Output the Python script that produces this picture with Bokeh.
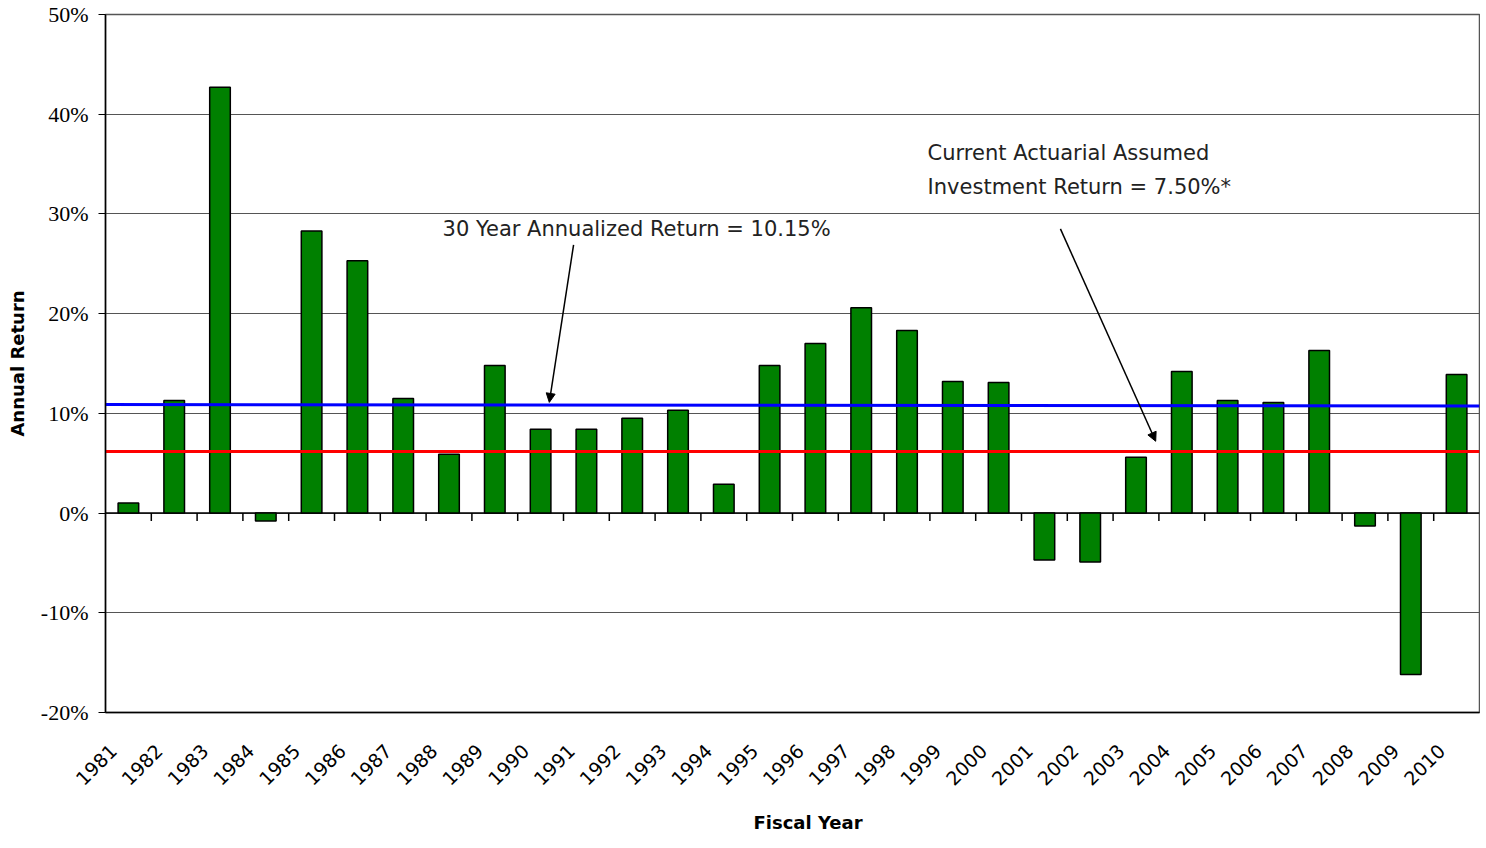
import math
from bokeh.plotting import figure
from bokeh.models import (FixedTicker, Label, Arrow, NormalHead, Range1d,
                          ColumnDataSource, Title)
from bokeh.embed import file_html
from bokeh.resources import INLINE

years = [str(y) for y in range(1981, 2011)]
returns = [1.0, 11.3, 42.7, -0.8, 28.3, 25.3, 11.5, 5.9, 14.8, 8.4,
           8.4, 9.5, 10.3, 2.9, 14.8, 17.0, 20.6, 18.3, 13.2, 13.1,
           -4.7, -4.9, 5.6, 14.2, 11.3, 11.1, 16.3, -1.3, -16.2, 13.9]
annualized_line = [10.88, 10.73]   # drawn value at first / last edge
assumed_line = [6.17, 6.17]
y_ticks = [-20, -10, 0, 10, 20, 30, 40, 50]

n = len(years)
idx = list(range(n))

W, H = 1480, 848
p = figure(width=W, height=H, output_backend="svg", toolbar_location=None,
           x_range=Range1d(-0.5, n - 0.5), y_range=Range1d(-20, 50),
           min_border_left=105, min_border_right=1, min_border_top=14,
           min_border_bottom=136)
p.background_fill_color = "white"
p.border_fill_color = "white"
p.outline_line_color = "#555555"
p.outline_line_width = 1.5

# grid
p.xgrid.grid_line_color = None
p.ygrid.ticker = FixedTicker(ticks=y_ticks)
p.ygrid.grid_line_color = "#555555"
p.ygrid.grid_line_width = 1

# y axis
p.yaxis.ticker = FixedTicker(ticks=y_ticks)
p.yaxis.major_label_overrides = {t: f"{t}%" for t in y_ticks}
p.yaxis.major_label_text_font = "Liberation Serif"
p.yaxis.major_label_text_font_size = "22px"
p.yaxis.major_label_text_color = "black"
p.yaxis.major_tick_in = 0
p.yaxis.major_tick_out = 7
p.yaxis.minor_tick_line_color = None
p.yaxis.axis_line_color = "black"
p.yaxis.axis_line_width = 1.5
p.yaxis.major_tick_line_color = "black"
p.yaxis.major_label_standoff = 10
p.yaxis.axis_label = "Annual Return"
p.yaxis.axis_label_text_font = "DejaVu Sans"
p.yaxis.axis_label_text_font_style = "bold"
p.yaxis.axis_label_text_font_size = "18px"
p.yaxis.axis_label_text_color = "black"
p.yaxis.axis_label_standoff = 10

# x axis
label_shift = 0.33
p.xaxis.ticker = FixedTicker(ticks=[i - label_shift for i in idx])
p.xaxis.major_label_overrides = {i - label_shift: y for i, y in zip(idx, years)}
p.xaxis.major_label_orientation = math.pi / 4
p.xaxis.major_label_text_font = "DejaVu Sans"
p.xaxis.major_label_text_font_size = "19px"
p.xaxis.major_label_text_color = "black"
p.xaxis.major_tick_line_color = None
p.xaxis.minor_tick_line_color = None
p.xaxis.axis_line_color = "black"
p.xaxis.axis_line_width = 1.5
p.xaxis.major_label_standoff = 29

# x axis title, placed below the axis and nudged right as in the reference
p.add_layout(Title(text="Fiscal Year", align="left", offset=648,
                   text_font="DejaVu Sans", text_font_style="bold",
                   text_font_size="18px", text_color="black",
                   text_line_height=1.0, standoff=31), "below")

# zero line and category boundary ticks
p.line([-0.5, n - 0.5], [0, 0], line_color="black", line_width=1.5)
bx = [i + 0.5 for i in idx[:-1]]
p.segment(x0=bx, y0=[0] * len(bx), x1=bx, y1=[-0.8] * len(bx),
          line_color="black", line_width=1.5)

# bars
src = ColumnDataSource(dict(x=idx, top=returns))
p.vbar(x="x", top="top", bottom=0, width=0.45, source=src,
       fill_color="#008000", line_color="black", line_width=1.5)

# reference lines
p.line([-0.5, n - 0.5], annualized_line, line_color="#0000ff", line_width=3)
p.line([-0.55, n - 0.5], assumed_line, line_color="#ff0000", line_width=3)

# annotations
afont = "DejaVu Sans"
afs = "21px"
p.add_layout(Label(x=6.86, y=28.5, text="30 Year Annualized Return = 10.15%",
                   text_font=afont, text_font_size=afs,
                   text_baseline="middle", text_color="#222222"))
p.add_layout(Label(x=17.45, y=36.1, text="Current Actuarial Assumed",
                   text_font=afont, text_font_size=afs,
                   text_baseline="middle", text_color="#222222"))
p.add_layout(Label(x=17.45, y=32.7, text="Investment Return = 7.50%*",
                   text_font=afont, text_font_size=afs,
                   text_baseline="middle", text_color="#222222"))
p.add_layout(Arrow(x_start=9.72, y_start=26.9, x_end=9.19, y_end=11.1,
                   line_color="black", line_width=1.5,
                   end=NormalHead(size=9, fill_color="black", line_color="black")))
p.add_layout(Arrow(x_start=20.35, y_start=28.5, x_end=22.43, y_end=7.2,
                   line_color="black", line_width=1.5,
                   end=NormalHead(size=9, fill_color="black", line_color="black")))

open("out.html", "w").write(file_html(p, INLINE))
